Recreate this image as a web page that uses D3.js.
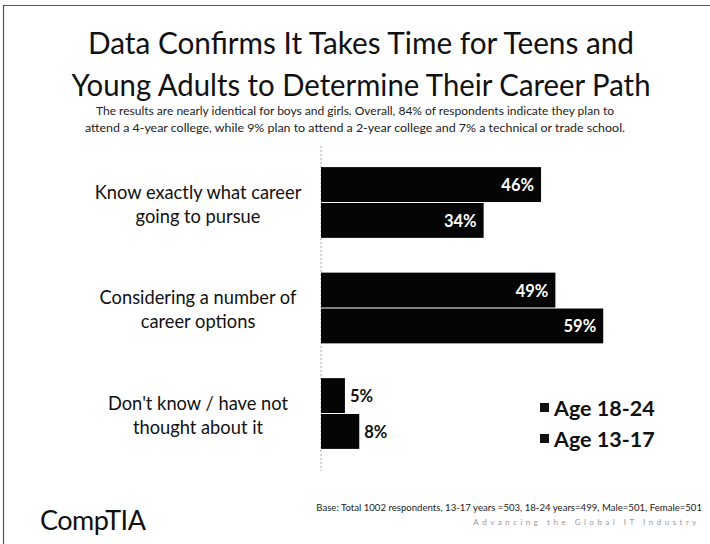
<!DOCTYPE html>
<html>
<head>
<meta charset="utf-8">
<script src="https://cdn.jsdelivr.net/npm/d3@7"></script>
<style>
  html, body { margin: 0; padding: 0; background: #fff; }
  svg { display: block; }
  text { font-family: Lato, "Open Sans", sans-serif; }
</style>
</head>
<body>
<svg id="chart"></svg>
<script>
// survey answers, top to bottom
var categories = [
  ["Know exactly what career", "going to pursue"],
  ["Considering a number of", "career options"],
  ["Don't know / have not", "thought about it"]
];
var seriesNames = ["Age 18-24", "Age 13-17"];
var age1824 = [46, 49, 5];
var age1317 = [34, 59, 8];

var titleLines = [
  "Data Confirms It Takes Time for Teens and",
  "Young Adults to Determine Their Career Path"
];
var subtitleLines = [
  "The results are nearly identical for boys and girls. Overall, 84% of respondents indicate they plan to",
  "attend a 4-year college, while 9% plan to attend a 2-year college and 7% a technical or trade school."
];
var baseNote = "Base: Total 1002 respondents, 13-17 years =503, 18-24 years=499, Male=501, Female=501";
var tagline = "Advancing the Global IT Industry";

// line widths for the header (Lato runs wider than the deck font)
var titleWidths = [546, 579];
var subtitleWidths = [518, 540];

var width = 710, height = 544;
var svg = d3.select("#chart").attr("width", width).attr("height", height);

// frame (left and top edges only)
svg.append("path")
  .attr("d", "M3.5,544 L3.5,5.5 L710,5.5")
  .attr("fill", "none")
  .attr("stroke", "#555")
  .attr("stroke-width", 1.2);

// title
svg.selectAll("text.title")
  .data(titleLines)
  .enter().append("text")
  .attr("class", "title")
  .attr("x", 361)
  .attr("y", function(d, i) { return 54 + i * 42; })
  .attr("text-anchor", "middle")
  .attr("font-size", 30.5)
  .attr("textLength", function(d, i) { return titleWidths[i]; })
  .attr("lengthAdjust", "spacingAndGlyphs")
  .attr("fill", "#111")
  .text(function(d) { return d; });

svg.selectAll("text.sub")
  .data(subtitleLines)
  .enter().append("text")
  .attr("class", "sub")
  .attr("x", 355)
  .attr("y", function(d, i) { return 115 + i * 17; })
  .attr("text-anchor", "middle")
  .attr("font-size", 11.5)
  .attr("textLength", function(d, i) { return subtitleWidths[i]; })
  .attr("lengthAdjust", "spacingAndGlyphs")
  .attr("fill", "#222")
  .text(function(d) { return d; });

// scales
var x = d3.scaleLinear().domain([0, 60]).range([321, 608]);
var y0 = d3.scaleBand()
  .domain(d3.range(categories.length))
  .range([146, 471])
  .paddingInner(0.32)
  .paddingOuter(0.2);
var y1 = d3.scaleBand()
  .domain(d3.range(seriesNames.length))
  .range([0, y0.bandwidth()]);

var rows = categories.map(function(c, i) {
  return { label: c, values: [age1824[i], age1317[i]] };
});

// category axis line
svg.append("line")
  .attr("x1", x(0)).attr("x2", x(0))
  .attr("y1", 146).attr("y2", 471)
  .attr("stroke", "#aaa")
  .attr("stroke-width", 1)
  .attr("stroke-dasharray", "2,2");

var group = svg.selectAll("g.cat")
  .data(rows)
  .enter().append("g")
  .attr("class", "cat")
  .attr("transform", function(d, i) { return "translate(0," + y0(i) + ")"; });

group.selectAll("text.cat-label")
  .data(function(d) { return d.label; })
  .enter().append("text")
  .attr("class", "cat-label")
  .attr("x", 198)
  .attr("y", function(d, i) { return y0.bandwidth() / 2 + (i - 0.5) * 24 + 8; })
  .attr("text-anchor", "middle")
  .attr("font-size", 18.3)
  .attr("fill", "#111")
  .text(function(d) { return d; });

var inside = function(d) { return x(d) - x(0) > 60; };

var bars = group.selectAll("g.bar")
  .data(function(d) { return d.values; })
  .enter().append("g")
  .attr("class", "bar");

bars.append("rect")
  .attr("x", x(0))
  .attr("y", function(d, i) { return y1(i); })
  .attr("width", function(d) { return x(d) - x(0); })
  .attr("height", y1.bandwidth() - 1)
  .attr("fill", "#050505");

bars.append("text")
  .attr("x", function(d) { return inside(d) ? x(d) - 7 : x(d) + 5; })
  .attr("y", function(d, i) { return y1(i) + y1.bandwidth() / 2 + 6; })
  .attr("text-anchor", function(d) { return inside(d) ? "end" : "start"; })
  .attr("font-size", 16.5)
  .attr("font-weight", "bold")
  .attr("fill", function(d) { return inside(d) ? "#fff" : "#111"; })
  .text(function(d) { return d + "%"; });

// legend
var legend = svg.selectAll("g.legend")
  .data(seriesNames)
  .enter().append("g")
  .attr("class", "legend")
  .attr("transform", function(d, i) { return "translate(540," + (408 + i * 31) + ")"; });

legend.append("rect")
  .attr("x", 0).attr("y", -5)
  .attr("width", 9).attr("height", 9)
  .attr("fill", "#111");

legend.append("text")
  .attr("x", 14).attr("y", 8)
  .attr("font-size", 21.5)
  .attr("font-weight", "bold")
  .attr("fill", "#111")
  .text(function(d) { return d; });

// footer
svg.append("text")
  .attr("x", 40).attr("y", 530)
  .attr("font-size", 27)
  .attr("font-family", "'DejaVu Sans', sans-serif")
  .attr("letter-spacing", -0.5)
  .attr("fill", "#111")
  .text("CompTIA");

svg.append("text")
  .attr("x", 702).attr("y", 511)
  .attr("text-anchor", "end")
  .attr("font-size", 9.6)
  .attr("fill", "#222")
  .text(baseNote);

svg.append("text")
  .attr("x", 700).attr("y", 525)
  .attr("text-anchor", "end")
  .attr("font-size", 8)
  .attr("letter-spacing", 3.5)
  .attr("fill", "#999")
  .text(tagline);
</script>
</body>
</html>
